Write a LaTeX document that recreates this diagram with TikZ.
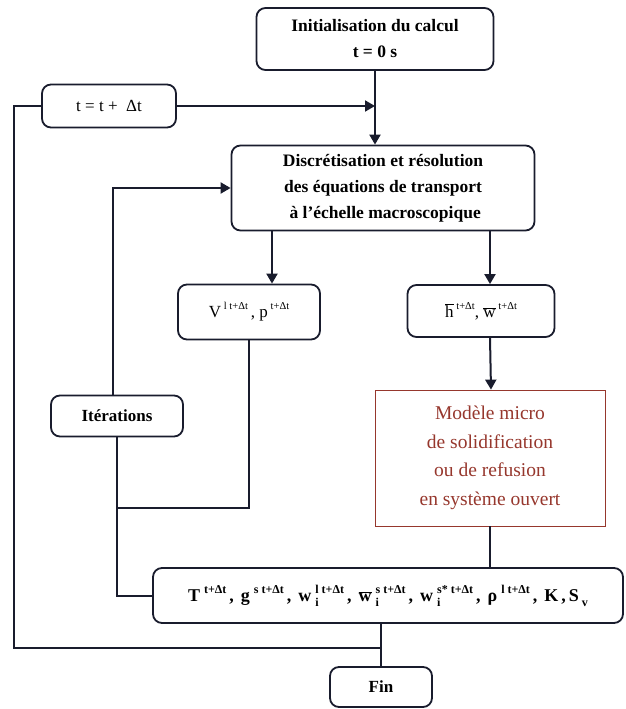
\documentclass[tikz,border=0pt]{standalone}
\usepackage{fontspec}
\setmainfont{Liberation Serif}
\usetikzlibrary{arrows.meta,positioning,calc}
\definecolor{inkline}{RGB}{25,28,45}
\definecolor{modelred}{RGB}{150,55,45}

% exposant et indice superposes, en police texte
\newcommand{\supsub}[2]{\hspace{4pt}\rlap{\raisebox{-0.5ex}{\fontsize{12}{10}\selectfont #1}}\raisebox{1.05ex}{\fontsize{12}{10}\selectfont #2}}
\newcommand{\expo}[1]{\raisebox{1.05ex}{\fontsize{10.5}{10}\selectfont #1}}
\newcommand{\bigexpo}[1]{\hspace{4pt}\raisebox{1.05ex}{\fontsize{12}{10}\selectfont #1}}
\newcommand{\barw}{$\overline{\hbox{w}}$}
\newcommand{\sep}{\hspace{3pt},\hspace{7pt}}

\begin{document}
\begin{tikzpicture}[
  x=1pt,y=-1pt,
  >=Latex,
  box/.style={draw=inkline,line width=1.8pt,rounded corners=9pt,align=center,inner sep=2pt},
  bigbox/.style={box,font=\fontsize{17.5}{26}\selectfont\bfseries},
  smallbox/.style={box,font=\fontsize{17}{20}\selectfont},
  model/.style={draw=modelred,line width=0.8pt,align=center,text=modelred,
    font=\fontsize{19.5}{28.5}\selectfont},
  arrow/.style={-{Triangle[width=11pt,length=10pt]},line width=2pt,draw=inkline},
  line/.style={line width=2pt,draw=inkline}
]
  \useasboundingbox (0,0) rectangle (625,709);

  \node[bigbox,minimum width=237,minimum height=62] (init) at (375,39)
    {Initialisation du calcul\\t = 0 s};
  \node[smallbox,minimum width=134,minimum height=43] (tstep) at (109,106)
    {t = t +\ \ Δt};
  \node[bigbox,minimum width=303,minimum height=85] (disc) at (383,188)
    {Discrétisation et résolution\\des équations de transport\\\ à l'échelle macroscopique};

  \node[smallbox,font=\fontsize{17}{20}\selectfont\bfseries,minimum width=132,minimum height=41] (iter) at (117,416)
    {Itérations};
  \node[smallbox,minimum width=142,minimum height=55] (vbox) at (249,312)
    {V\,\expo{l t+Δt}\,, p\,\expo{t+Δt}};
  \node[smallbox,minimum width=147,minimum height=52] (hbox) at (481,311)
    {$\overline{\hbox{h}}$\,\expo{t+Δt}, \barw\,\expo{t+Δt}};
  \node[model,minimum width=230,minimum height=136] (micro) at (490,458)
    {Modèle micro\\de solidification\\ou de refusion\\en système ouvert};

  \node[smallbox,font=\fontsize{18}{20}\selectfont\bfseries,minimum width=470,minimum height=55] (state) at (388,595.5)
    {T\bigexpo{t+Δt}\sep g\bigexpo{s t+Δt}\sep w\supsub{i}{l t+Δt}\sep \barw\supsub{i}{s t+Δt}\sep w\supsub{i}{s* t+Δt}\sep ρ\bigexpo{l t+Δt}\sep K\hspace{3pt},\hspace{3pt}S\hspace{3pt}\raisebox{-0.5ex}{\fontsize{12}{10}\selectfont v}};
  \node[smallbox,font=\fontsize{17}{20}\selectfont\bfseries,minimum width=102,minimum height=40] (fin) at (381,687)
    {Fin};

  \coordinate (merge) at (375,106);
  \coordinate (back) at (14,106);
  \coordinate (loop) at (381,648);
  \coordinate (vjoin) at (118,508);

  % boucle temporelle
  \draw[arrow] (init.south) -- (init.south |- disc.north);
  \draw[arrow] (tstep) -- (merge);
  \draw[line] (loop) -| (back) -- (tstep);

  % iterations
  \draw[arrow] ([xshift=-4pt]iter.north) |- (disc.west);
  \draw[line] (vbox.south) |- (vjoin);
  \draw[line] (iter.south) |- (state.west);

  \draw[arrow] ([xshift=-111pt]disc.south) -- ([xshift=23pt]vbox.north);
  \draw[arrow] ([xshift=107pt]disc.south) -- ([xshift=9pt]hbox.north);
  \draw[arrow] ([xshift=9pt]hbox.south) -- ([xshift=10pt]hbox.south |- micro.north);
  \draw[line] (micro.south) -- (micro.south |- state.north);
  \draw[line] (state.south -| fin) -- (fin.north);
\end{tikzpicture}
\end{document}
